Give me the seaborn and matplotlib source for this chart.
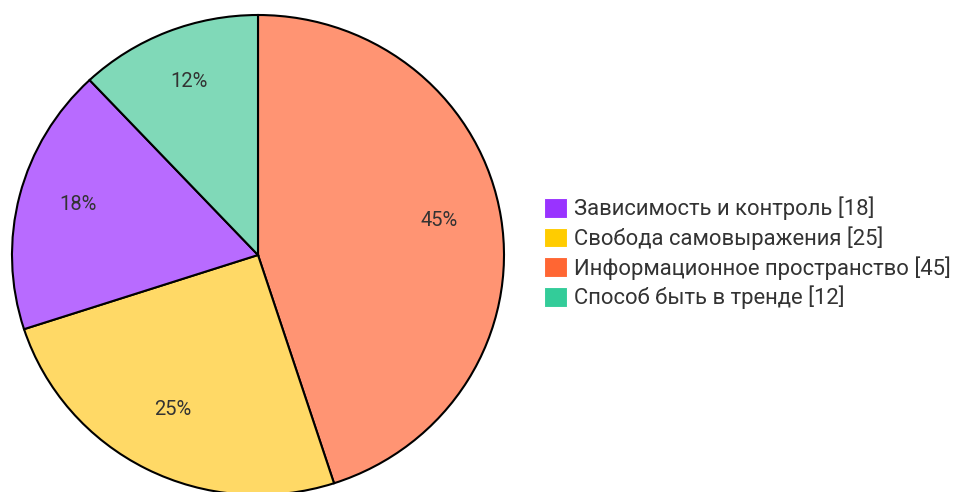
import matplotlib
matplotlib.use("Agg")
import matplotlib.pyplot as plt
import matplotlib.transforms as mtransforms
import seaborn as sns
from matplotlib.patches import Patch

# Survey shares per category (legend order)
categories = ["Зависимость и контроль", "Свобода самовыражения",
              "Информационное пространство", "Способ быть в тренде"]
values = [18, 25, 45, 12]

# solid colours for the legend keys, lighter tints for the slices
key_colors = ["#9933FF", "#FFCC00", "#FF6633", "#33CC99"]
slice_colors = ["#B86BFF", "#FFD966", "#FF9473", "#80D9B8"]

sns.set_theme(style="white")
plt.rcParams["font.family"] = ["Roboto", "DejaVu Sans"]

fig = plt.figure(figsize=(9.54, 4.92), dpi=100)
W, H = 954, 492

# pie occupies a slightly flattened circle on the left
ax = fig.add_axes([12 / W, -3 / H, 492 / W, 480 / H])

# slices drawn largest first, clockwise from the top
order = sorted(range(len(values)), key=lambda i: -values[i])
pie_vals = [values[i] for i in order]
pie_cols = [slice_colors[i] for i in order]

wedges, texts, autotexts = ax.pie(
    pie_vals, colors=pie_cols, startangle=90, counterclock=False,
    autopct=lambda p: f"{p:.0f}%", pctdistance=0.75,
    wedgeprops=dict(edgecolor="black", linewidth=1.5),
    textprops=dict(color="#333333", fontsize=14.5),
)
# nudge percentage labels slightly upward
lift = mtransforms.offset_copy(ax.transData, fig=fig, x=-1, y=6, units="dots")
for t in autotexts:
    t.set_transform(lift)

ax.set_aspect("auto")
ax.set_xlim(-1.0, 1.0)
ax.set_ylim(-1.0, 1.0)
ax.axis("off")

handles = [Patch(facecolor=c, edgecolor="white", linewidth=0.8) for c in key_colors]
labels = [f"{c} [{v}]" for c, v in zip(categories, values)]
fig.legend(handles, labels, loc="center left", bbox_to_anchor=(544 / W, 1 - 253 / H),
           frameon=False, fontsize=15.8, handlelength=1.07, handleheight=1.0,
           handletextpad=0.3, labelspacing=0.27, borderpad=0, borderaxespad=0,
           labelcolor="#333333")

fig.savefig("out.png", dpi=100)
